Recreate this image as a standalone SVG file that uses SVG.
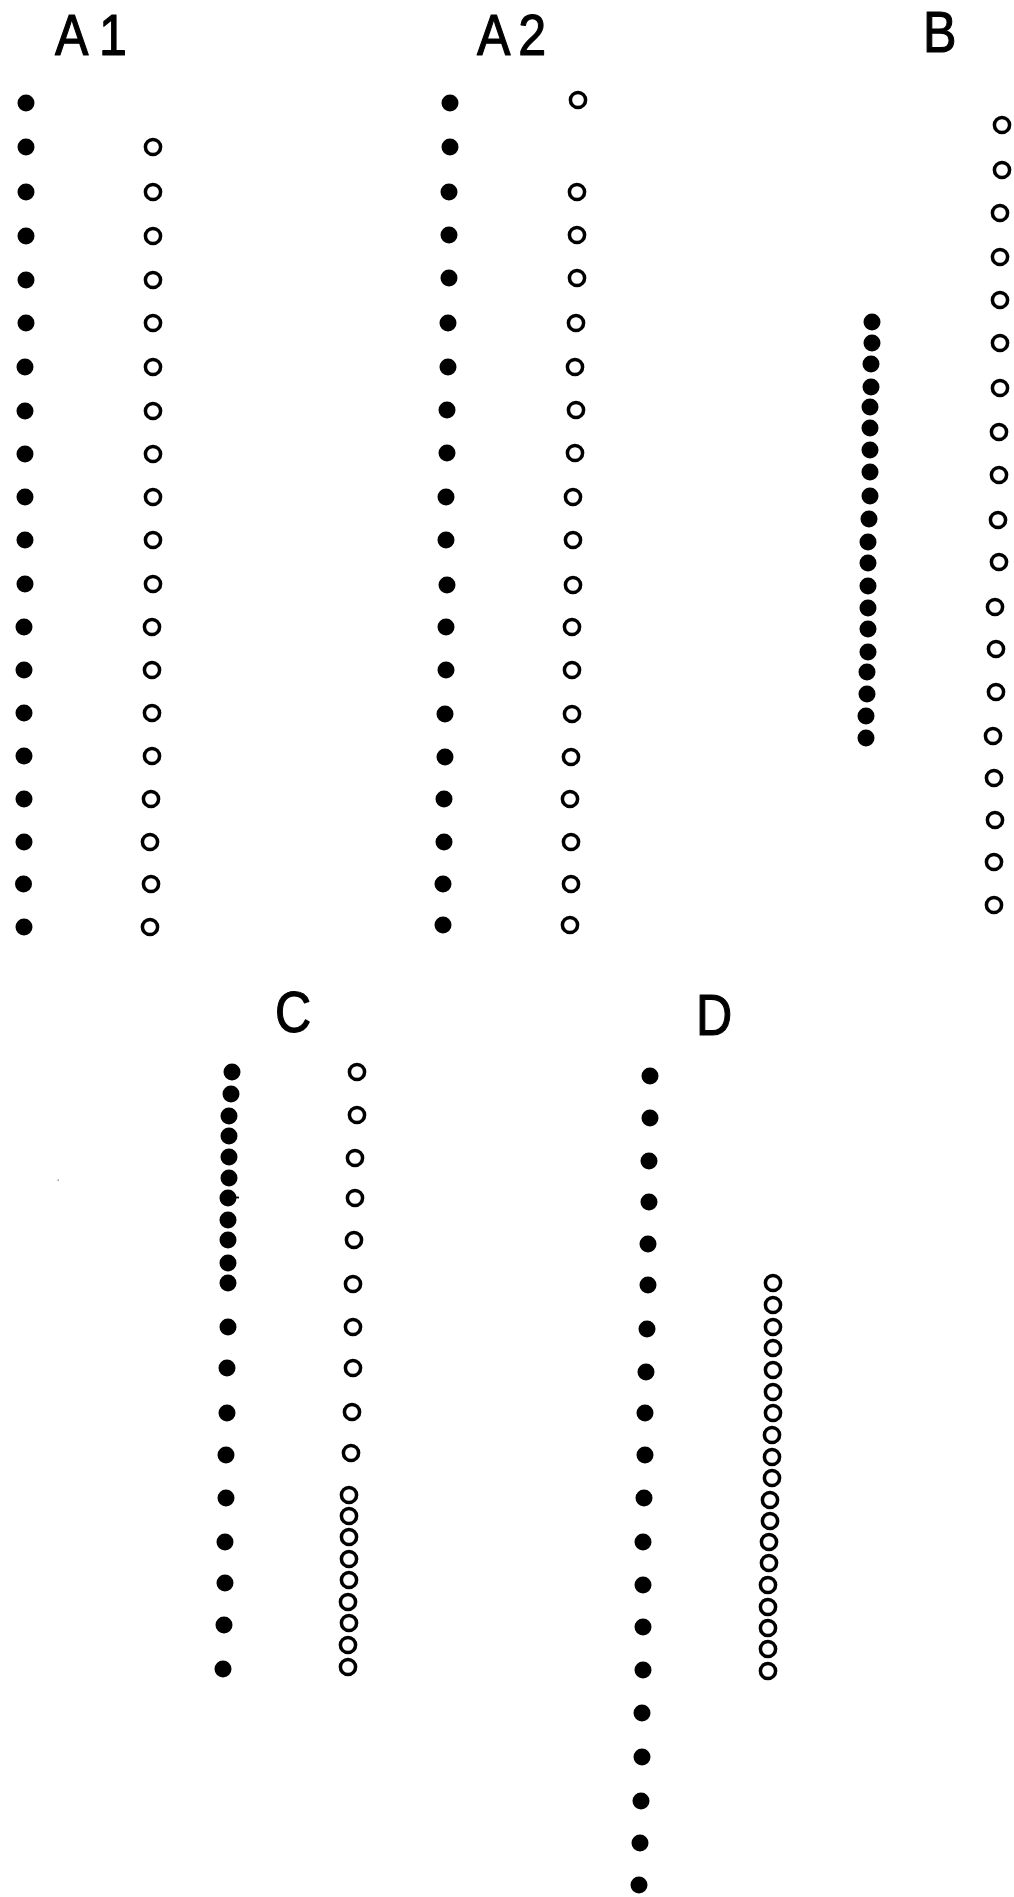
<svg xmlns="http://www.w3.org/2000/svg" width="1014" height="1897" viewBox="0 0 1014 1897">
<style>
.f{fill:#000}
.o{fill:none;stroke:#000;stroke-width:3.5}
.lbl{font-family:"Liberation Sans",Arial,sans-serif;font-size:57px;fill:#000;stroke:#000;stroke-width:1.2;stroke-linejoin:round}
</style>
<defs>
<circle id="fd" r="8.5"/>
<circle id="od" r="7.6"/>
</defs>
<rect width="1014" height="1897" fill="#fff"/>
<g id="labels">
<text class="lbl" transform="translate(55,55) scale(0.88,1)" x="0 50">A1</text>
<text class="lbl" transform="translate(477,55) scale(0.88,1)" x="0 47">A2</text>
<text class="lbl" transform="translate(923,52) scale(0.88,1)">B</text>
<text class="lbl" transform="translate(275,1032) scale(0.88,1)">C</text>
<text class="lbl" transform="translate(696,1035) scale(0.88,1)">D</text>
</g>
<g id="A1-filled" class="f">
<use href="#fd" x="26" y="103"/><use href="#fd" x="26" y="147"/><use href="#fd" x="26" y="192"/><use href="#fd" x="26" y="236"/><use href="#fd" x="26" y="280"/><use href="#fd" x="26" y="323"/><use href="#fd" x="25" y="367"/><use href="#fd" x="25" y="411"/><use href="#fd" x="25" y="454"/><use href="#fd" x="25" y="497"/><use href="#fd" x="25" y="540"/><use href="#fd" x="25" y="584"/><use href="#fd" x="24" y="627"/><use href="#fd" x="24" y="670"/><use href="#fd" x="24" y="713"/><use href="#fd" x="24" y="756"/><use href="#fd" x="24" y="799"/><use href="#fd" x="24" y="842"/><use href="#fd" x="23.5" y="884"/><use href="#fd" x="24" y="927"/>
</g>
<g id="A1-open" class="o">
<use href="#od" x="153" y="147"/><use href="#od" x="153" y="192"/><use href="#od" x="153" y="236"/><use href="#od" x="153" y="280"/><use href="#od" x="153" y="323"/><use href="#od" x="153" y="367"/><use href="#od" x="153" y="411"/><use href="#od" x="153" y="454"/><use href="#od" x="153" y="497"/><use href="#od" x="153" y="540"/><use href="#od" x="153" y="584"/><use href="#od" x="152" y="627"/><use href="#od" x="152" y="670"/><use href="#od" x="152" y="713"/><use href="#od" x="152" y="756"/><use href="#od" x="151" y="799"/><use href="#od" x="150" y="842"/><use href="#od" x="151" y="884"/><use href="#od" x="150" y="927"/>
</g>
<g id="A2-filled" class="f">
<use href="#fd" x="450" y="103"/><use href="#fd" x="450" y="147"/><use href="#fd" x="449" y="192"/><use href="#fd" x="449" y="235"/><use href="#fd" x="449" y="278"/><use href="#fd" x="448" y="323"/><use href="#fd" x="448" y="367"/><use href="#fd" x="447" y="410"/><use href="#fd" x="447" y="453"/><use href="#fd" x="446" y="497"/><use href="#fd" x="446" y="540"/><use href="#fd" x="447" y="585"/><use href="#fd" x="446" y="627"/><use href="#fd" x="446" y="670"/><use href="#fd" x="445" y="714"/><use href="#fd" x="445" y="757"/><use href="#fd" x="444" y="799"/><use href="#fd" x="444" y="842"/><use href="#fd" x="443" y="884"/><use href="#fd" x="443" y="925"/>
</g>
<g id="A2-open" class="o">
<use href="#od" x="578" y="100"/><use href="#od" x="577" y="192"/><use href="#od" x="577" y="235"/><use href="#od" x="577" y="278"/><use href="#od" x="576" y="323"/><use href="#od" x="575" y="367"/><use href="#od" x="576" y="410"/><use href="#od" x="575" y="453"/><use href="#od" x="573" y="497"/><use href="#od" x="573" y="540"/><use href="#od" x="573" y="585"/><use href="#od" x="572" y="627"/><use href="#od" x="572" y="670"/><use href="#od" x="572" y="714"/><use href="#od" x="571" y="757"/><use href="#od" x="570" y="799"/><use href="#od" x="571" y="842"/><use href="#od" x="571" y="884"/><use href="#od" x="570" y="925"/>
</g>
<g id="B-filled" class="f">
<use href="#fd" x="872" y="322"/><use href="#fd" x="872" y="343"/><use href="#fd" x="871" y="364"/><use href="#fd" x="871" y="387"/><use href="#fd" x="870" y="407"/><use href="#fd" x="870" y="428"/><use href="#fd" x="870" y="450"/><use href="#fd" x="870" y="472"/><use href="#fd" x="870" y="496"/><use href="#fd" x="869" y="519"/><use href="#fd" x="868" y="542"/><use href="#fd" x="868" y="563"/><use href="#fd" x="868" y="586"/><use href="#fd" x="868" y="608"/><use href="#fd" x="868" y="629"/><use href="#fd" x="868" y="652"/><use href="#fd" x="867" y="672"/><use href="#fd" x="867" y="694"/><use href="#fd" x="866" y="716"/><use href="#fd" x="866" y="738"/>
</g>
<g id="B-open" class="o">
<use href="#od" x="1002" y="125"/><use href="#od" x="1002" y="170"/><use href="#od" x="1000" y="213"/><use href="#od" x="1000" y="257"/><use href="#od" x="1000" y="300"/><use href="#od" x="1000" y="343"/><use href="#od" x="1000" y="388"/><use href="#od" x="999" y="432"/><use href="#od" x="999" y="475"/><use href="#od" x="998" y="520"/><use href="#od" x="999" y="562"/><use href="#od" x="995" y="607"/><use href="#od" x="996" y="649"/><use href="#od" x="996" y="692"/><use href="#od" x="993" y="736"/><use href="#od" x="994" y="778"/><use href="#od" x="995" y="820"/><use href="#od" x="994" y="862"/><use href="#od" x="994" y="905"/>
</g>
<g id="C-filled" class="f">
<use href="#fd" x="232" y="1072"/><use href="#fd" x="231" y="1094"/><use href="#fd" x="229" y="1116"/><use href="#fd" x="229" y="1136"/><use href="#fd" x="229" y="1157"/><use href="#fd" x="229" y="1178"/><use href="#fd" x="228" y="1198"/><use href="#fd" x="228" y="1220"/><use href="#fd" x="228" y="1240"/><use href="#fd" x="228" y="1263"/><use href="#fd" x="228" y="1283"/><use href="#fd" x="228" y="1327"/><use href="#fd" x="227" y="1368"/><use href="#fd" x="227" y="1413"/><use href="#fd" x="226" y="1455"/><use href="#fd" x="226" y="1498"/><use href="#fd" x="225" y="1542"/><use href="#fd" x="225" y="1583"/><use href="#fd" x="224" y="1625"/><use href="#fd" x="223" y="1669"/>
<line x1="232" y1="1197.5" x2="239" y2="1197.5" stroke="#000" stroke-width="1.8"/>
</g>
<g id="C-open" class="o">
<use href="#od" x="357" y="1072"/><use href="#od" x="357" y="1115"/><use href="#od" x="355" y="1158"/><use href="#od" x="355" y="1198"/><use href="#od" x="354" y="1240"/><use href="#od" x="353" y="1284"/><use href="#od" x="353" y="1327"/><use href="#od" x="353" y="1368"/><use href="#od" x="352" y="1412"/><use href="#od" x="351" y="1453"/><use href="#od" x="349" y="1495"/><use href="#od" x="349" y="1516"/><use href="#od" x="349" y="1537"/><use href="#od" x="349" y="1559"/><use href="#od" x="349" y="1580"/><use href="#od" x="348" y="1602"/><use href="#od" x="349" y="1623"/><use href="#od" x="348" y="1645"/><use href="#od" x="348" y="1667"/>
</g>
<g id="D-filled" class="f">
<use href="#fd" x="650" y="1076"/><use href="#fd" x="650" y="1118"/><use href="#fd" x="649" y="1161"/><use href="#fd" x="649" y="1202"/><use href="#fd" x="648" y="1244"/><use href="#fd" x="648" y="1285"/><use href="#fd" x="647" y="1329"/><use href="#fd" x="646" y="1372"/><use href="#fd" x="645" y="1413"/><use href="#fd" x="645" y="1455"/><use href="#fd" x="644" y="1498"/><use href="#fd" x="643" y="1542"/><use href="#fd" x="643" y="1585"/><use href="#fd" x="643" y="1627"/><use href="#fd" x="643" y="1670"/><use href="#fd" x="642" y="1713"/><use href="#fd" x="642" y="1757"/><use href="#fd" x="641" y="1801"/><use href="#fd" x="640" y="1843"/><use href="#fd" x="639" y="1885"/>
</g>
<g id="D-open" class="o">
<use href="#od" x="773" y="1283"/><use href="#od" x="773" y="1305"/><use href="#od" x="773" y="1327"/><use href="#od" x="773" y="1348"/><use href="#od" x="773" y="1370"/><use href="#od" x="773" y="1392"/><use href="#od" x="773" y="1413"/><use href="#od" x="772" y="1435"/><use href="#od" x="772" y="1457"/><use href="#od" x="772" y="1478"/><use href="#od" x="770" y="1500"/><use href="#od" x="770" y="1521"/><use href="#od" x="769" y="1542"/><use href="#od" x="769" y="1563"/><use href="#od" x="768" y="1585"/><use href="#od" x="768" y="1607"/><use href="#od" x="768" y="1628"/><use href="#od" x="768" y="1649"/><use href="#od" x="768" y="1671"/>
</g>
<rect x="57.5" y="1179.5" width="1.5" height="1.5" fill="#999"/>
</svg>
